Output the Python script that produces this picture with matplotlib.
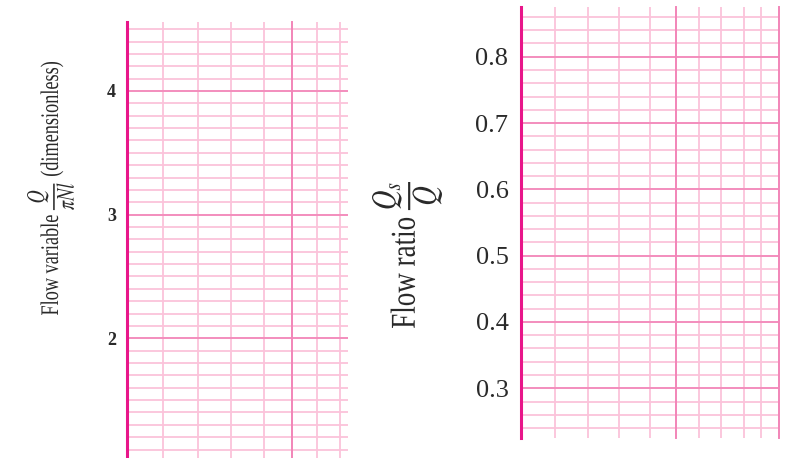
import numpy as np
import matplotlib
matplotlib.use("Agg")
import matplotlib.pyplot as plt
from matplotlib.textpath import TextPath
from matplotlib.font_manager import FontProperties
from matplotlib.patches import PathPatch
from matplotlib.transforms import Affine2D, IdentityTransform

plt.rcParams['mathtext.fontset'] = 'stix'

# graph-paper rulings (same sheet under both panels)
x_minor = [0.22, 0.43, 0.63, 0.83, 1.15, 1.29, 1.44, 1.55]
x_major = [1.0, 1.665]

# left panel: flow variable
left_ylim = (1.032, 4.558)
left_ymajor = [2, 3, 4]
left_ylabels = ['2', '3', '4']
left_yminor = np.round(np.arange(1.1, 4.56, 0.1), 2)
left_xlim = (0, 1.34)

# right panel: flow ratio
right_ylim = (0.225, 0.875)
right_ymajor = [0.3, 0.4, 0.5, 0.6, 0.7, 0.8]
right_ylabels = ['0.3', '0.4', '0.5', '0.6', '0.7', '0.8']
right_yminor = np.round(np.arange(0.24, 0.875, 0.02), 2)
right_xlim = (0, 1.665)

MINOR = '#fbc3da'
MAJOR = '#f285b8'
SPINE = '#e8168a'
INK = '#2a2a2a'

W, H = 785, 458
fig = plt.figure(figsize=(W / 100, H / 100), dpi=100)


def paper(ax, xlim, ylim, ymajor, ylabels, yminor, fontsize, pad, weight):
    ax.set_xlim(*xlim)
    ax.set_ylim(*ylim)
    for v in yminor:
        ax.axhline(v, color=MINOR, lw=1.3, zorder=1)
    for v in x_minor:
        if v < xlim[1]:
            ax.axvline(v, color=MINOR, lw=1.3, zorder=1)
    for v in ymajor:
        ax.axhline(v, color=MAJOR, lw=1.2, zorder=2)
    for v in x_major:
        if v <= xlim[1]:
            ax.axvline(v, color=MAJOR, lw=1.4, zorder=2, clip_on=False)
    for s in ['top', 'right', 'bottom']:
        ax.spines[s].set_visible(False)
    ax.spines['left'].set_color(SPINE)
    ax.spines['left'].set_linewidth(2.2)
    ax.spines['left'].set_zorder(3)
    ax.set_xticks([])
    ax.set_yticks(ymajor)
    ax.set_yticklabels(ylabels, fontsize=fontsize, family='Liberation Serif',
                       color=INK, fontweight=weight)
    ax.tick_params(axis='y', length=0, pad=pad)
    ax.set_facecolor('white')


ax1 = fig.add_axes([127 / W, 0, 221 / W, 436 / H])
paper(ax1, left_xlim, left_ylim, left_ymajor, left_ylabels, left_yminor, 13, 8.0, 'bold')

ax2 = fig.add_axes([521 / W, 20 / H, 258 / W, 431 / H])
paper(ax2, right_xlim, right_ylim, right_ymajor, right_ylabels, right_yminor, 19, 9.0, 'normal')


def side_label(s, x0, x1, y0, y1):
    # rotated label stretched to fill a pixel box (origin bottom-left)
    tp = TextPath((0, 0), s, size=20, prop=FontProperties(family='Liberation Serif'))
    p = Affine2D().rotate_deg(90).transform_path(tp)
    ext = p.get_extents()
    t = (Affine2D().translate(-ext.x0, -ext.y0)
         .scale((x1 - x0) / ext.width, (y1 - y0) / ext.height)
         .translate(x0, y0))
    patch = PathPatch(t.transform_path(p), transform=IdentityTransform(),
                      facecolor=INK, edgecolor='none')
    fig.add_artist(patch)


side_label(r'Flow variable $\dfrac{Q}{\pi N l}$ (dimensionless)', 27, 74, H - 315, H - 62)
side_label(r'Flow ratio $\dfrac{Q_s}{Q}$', 372, 442, H - 328, H - 182)

fig.savefig('out.png', dpi=100, facecolor='white')
